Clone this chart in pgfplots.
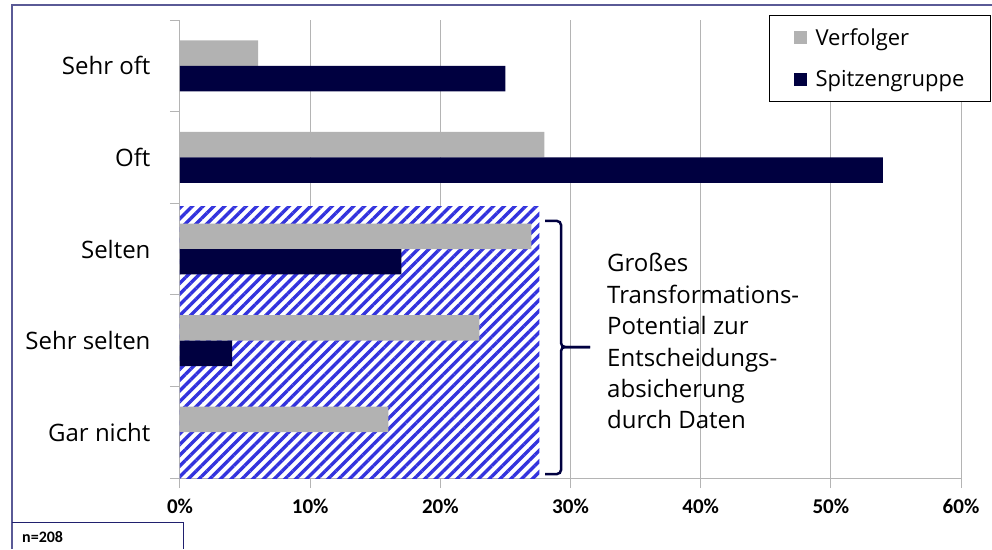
\documentclass[border=0pt]{standalone}
\usepackage{fontspec}
\setmainfont{Open Sans}
\newfontfamily\calibri{Carlito}
\usepackage{pgfplots}
\pgfplotsset{compat=1.18}
\usetikzlibrary{patterns.meta}
\definecolor{vgray}{RGB}{178,178,178}
\definecolor{navy}{RGB}{0,0,64}
\definecolor{hatchc}{RGB}{51,51,221}
\definecolor{framec}{RGB}{90,90,150}
\definecolor{nboxc}{RGB}{32,32,110}
\definecolor{gridc}{RGB}{180,180,180}
\begin{document}
\begin{tikzpicture}
\begin{axis}[
  scale only axis, width=781pt, height=458pt,
  xmin=0, xmax=60, ymin=-0.5, ymax=4.5, y dir=reverse,
  axis x line*=bottom, axis y line*=left,
  axis line style={gridc, line width=1pt},
  xtick={0,10,20,30,40,50,60},
  xticklabels={0\%,10\%,20\%,30\%,40\%,50\%,60\%},
  xmajorgrids, grid style={gridc, line width=1pt},
  tick align=outside, major tick length=10pt,
  tick style={gridc, line width=1pt},
  xticklabel style={font=\fontsize{21}{24}\selectfont\calibri\bfseries, anchor=north, yshift=-7pt},
  ytick={-0.5,0.5,1.5,2.5,3.5,4.5},
  yticklabels={Sehr oft,Oft,Selten,Sehr selten,Gar nicht,{}},
  yticklabel style={font=\fontsize{24}{28}\selectfont, yshift=-45.8pt, xshift=-16pt},
  xbar, bar width=0.278,
  legend style={at={(rel axis cs:0.7542,1.011)}, anchor=north west,
    draw=black, line width=1pt, font=\fontsize{22}{26}\selectfont,
    row sep=20pt, column sep=7pt, inner xsep=24pt, inner ysep=11pt},
  legend cell align=left,
  legend image code/.code={\fill[#1] (-4pt,-6.5pt) rectangle (9pt,6.5pt);},
]
\coordinate (O) at (axis cs:0,4.5);
\fill[white] (axis cs:0,1.541) rectangle (axis cs:27.6,4.5);
\fill[pattern={Lines[angle=45,distance=7.6pt,line width=3.4pt]}, pattern color=hatchc] (axis cs:0,1.541) rectangle (axis cs:27.6,4.5);
\addplot[fill=vgray, draw=none, bar shift=-0.139] coordinates {(6,0) (28,1) (27,2) (23,3) (16,4)};
\addlegendentry{Verfolger}
\addplot[fill=navy, draw=none, bar shift=0.139] coordinates {(25,0) (54,1) (17,2) (4,3) (0,4)};
\addlegendentry{Spitzengruppe\hspace{3pt}}
\end{axis}
\begin{scope}[shift={(O)}, xshift=-180pt, yshift=-71pt, x=1pt, y=1pt]
\draw[framec, line width=1.2pt] (992,544) -- (12,544) -- (12,0);
\draw[navy, line width=2.5pt, rounded corners=4pt] (545,328) -- (561,328) -- (561,202) -- (590,202);
\draw[navy, line width=2.5pt, rounded corners=4pt] (545,75) -- (561,75) -- (561,202) -- (590,202);
\begin{scope}[every node/.style={anchor=base west, inner sep=0pt, font=\fontsize{24}{28}\selectfont}]
\node at (607,277) {Großes};
\node at (607,245.7) {Transformations-};
\node at (607,214.4) {Potential zur};
\node at (607,183) {Entscheidungs-};
\node at (607,151.8) {absicherung};
\node at (607,120.5) {durch Daten};
\end{scope}
\draw[nboxc, line width=1pt] (12,27) -- (183,27) -- (183,0);
\node[anchor=base west, inner sep=0pt, font=\fontsize{16}{18}\selectfont\calibri\bfseries] at (22,7) {n=208};
\pgfresetboundingbox
\path[use as bounding box] (0,0) rectangle (992,549);
\end{scope}
\end{tikzpicture}
\end{document}
